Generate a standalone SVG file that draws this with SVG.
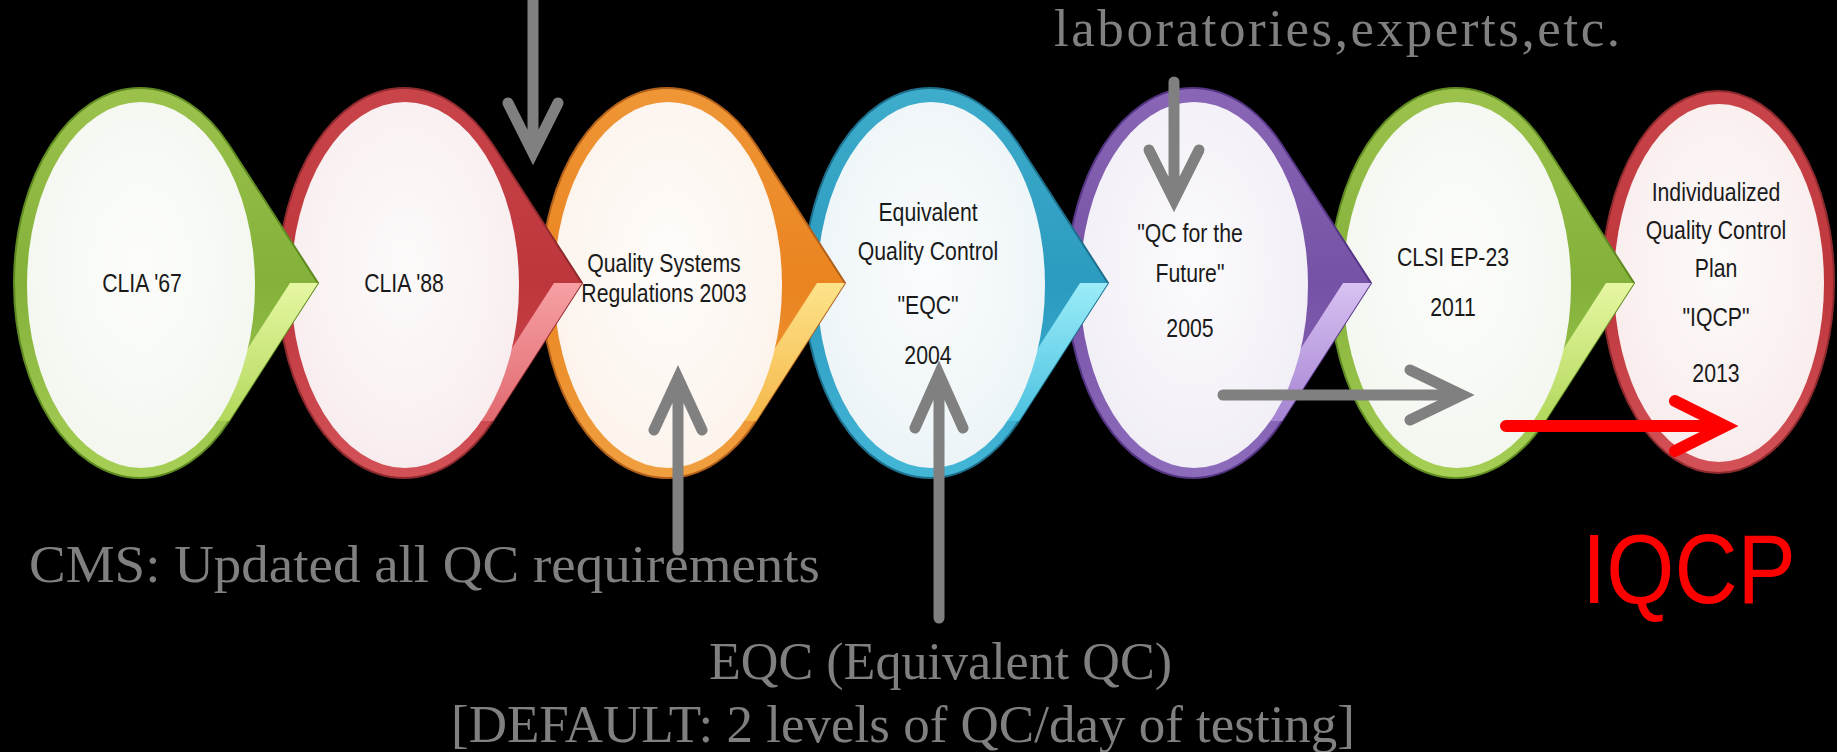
<svg xmlns="http://www.w3.org/2000/svg" width="1837" height="752" viewBox="0 0 1837 752">
<style>
.nt{font-family:"Liberation Sans",Arial,sans-serif;font-size:25px;fill:#1a1a1a;text-anchor:middle}
.ann{font-family:"Liberation Serif","Times New Roman",serif;font-size:53px;fill:#808080}
.arr{fill:none;stroke:#808080;stroke-width:11;stroke-linecap:round;stroke-linejoin:miter}
.red{stroke:#ff0000;stroke-width:12}
.hl{fill:url(#hl)}
</style>
<defs>
<radialGradient id="hl" cx="0.5" cy="0.45" r="0.55"><stop offset="0" stop-color="#ffffff" stop-opacity="0.75"/><stop offset="0.8" stop-color="#ffffff" stop-opacity="0.2"/><stop offset="1" stop-color="#ffffff" stop-opacity="0"/></radialGradient>
<linearGradient id="gG" x1="0" y1="0" x2="0" y2="1"><stop offset="0" stop-color="#9cc24c"/><stop offset="0.5" stop-color="#83b13a"/><stop offset="1" stop-color="#a7cf55"/></linearGradient>
<linearGradient id="gGb" x1="0" y1="0" x2="0" y2="1"><stop offset="0" stop-color="#e6f7a2"/><stop offset="1" stop-color="#b2d85c"/></linearGradient>
<linearGradient id="gR" x1="0" y1="0" x2="0" y2="1"><stop offset="0" stop-color="#c9454a"/><stop offset="0.5" stop-color="#bd363c"/><stop offset="1" stop-color="#d35258"/></linearGradient>
<linearGradient id="gRb" x1="0" y1="0" x2="0" y2="1"><stop offset="0" stop-color="#f7a0a4"/><stop offset="1" stop-color="#e06a70"/></linearGradient>
<linearGradient id="gO" x1="0" y1="0" x2="0" y2="1"><stop offset="0" stop-color="#ef9636"/><stop offset="0.5" stop-color="#ea8420"/><stop offset="1" stop-color="#f0a040"/></linearGradient>
<linearGradient id="gOb" x1="0" y1="0" x2="0" y2="1"><stop offset="0" stop-color="#fde38a"/><stop offset="1" stop-color="#f5b84a"/></linearGradient>
<linearGradient id="gB" x1="0" y1="0" x2="0" y2="1"><stop offset="0" stop-color="#3eaccb"/><stop offset="0.5" stop-color="#2b9bbf"/><stop offset="1" stop-color="#44b6d6"/></linearGradient>
<linearGradient id="gBb" x1="0" y1="0" x2="0" y2="1"><stop offset="0" stop-color="#9becf8"/><stop offset="1" stop-color="#4cc2e0"/></linearGradient>
<linearGradient id="gP" x1="0" y1="0" x2="0" y2="1"><stop offset="0" stop-color="#8a66b6"/><stop offset="0.5" stop-color="#7652a6"/><stop offset="1" stop-color="#8e6cbc"/></linearGradient>
<linearGradient id="gPb" x1="0" y1="0" x2="0" y2="1"><stop offset="0" stop-color="#d8c2f2"/><stop offset="1" stop-color="#a583d2"/></linearGradient>
</defs>
<rect width="1837" height="752" fill="#000"/>

<g id="node7">
<ellipse cx="1718" cy="282" rx="116" ry="191" fill="url(#gR)" stroke="#8e2a2e" stroke-width="2"/>
<ellipse cx="1719" cy="283" rx="105" ry="179" fill="#f9ecec"/>
<ellipse cx="1719" cy="283" rx="105" ry="179" class="hl"/>
<g transform="translate(1716 0) scale(0.85 1)">
<text class="nt" x="0" y="201">Individualized</text>
<text class="nt" x="0" y="239">Quality Control</text>
<text class="nt" x="0" y="277">Plan</text>
<text class="nt" x="0" y="326">"IQCP"</text>
<text class="nt" x="0" y="382">2013</text>
</g>
</g>

<g id="node6">
<path d="M1634 283 L1545 421 A126 195 0 1 1 1545 145 Z" fill="url(#gG)" stroke="#5f8a22" stroke-width="2"/>
<path d="M1634 283 L1606 283 L1517 421 L1545 421 Z" fill="url(#gGb)"/>
<ellipse cx="1457" cy="285" rx="114" ry="183" fill="#f3f7ef"/>
<ellipse cx="1457" cy="285" rx="114" ry="183" class="hl"/>
<g transform="translate(1453 0) scale(0.85 1)">
<text class="nt" x="0" y="266">CLSI EP-23</text>
<text class="nt" x="0" y="316">2011</text>
</g>
</g>

<g id="node5">
<path d="M1371 283 L1282 421 A126 195 0 1 1 1282 145 Z" fill="url(#gP)" stroke="#553684" stroke-width="2"/>
<path d="M1371 283 L1343 283 L1254 421 L1282 421 Z" fill="url(#gPb)"/>
<ellipse cx="1194" cy="285" rx="114" ry="183" fill="#f1eef6"/>
<ellipse cx="1194" cy="285" rx="114" ry="183" class="hl"/>
<g transform="translate(1190 0) scale(0.85 1)">
<text class="nt" x="0" y="242">"QC for the</text>
<text class="nt" x="0" y="282">Future"</text>
<text class="nt" x="0" y="337">2005</text>
</g>
</g>

<g id="node4">
<path d="M1108 283 L1019 421 A126 195 0 1 1 1019 145 Z" fill="url(#gB)" stroke="#1d6f8c" stroke-width="2"/>
<path d="M1108 283 L1080 283 L991 421 L1019 421 Z" fill="url(#gBb)"/>
<ellipse cx="931" cy="285" rx="114" ry="183" fill="#ecf4f7"/>
<ellipse cx="931" cy="285" rx="114" ry="183" class="hl"/>
<g transform="translate(928 0) scale(0.85 1)">
<text class="nt" x="0" y="221">Equivalent</text>
<text class="nt" x="0" y="260">Quality Control</text>
<text class="nt" x="0" y="314">"EQC"</text>
<text class="nt" x="0" y="364">2004</text>
</g>
</g>

<g id="node3">
<path d="M845 283 L756 421 A126 195 0 1 1 756 145 Z" fill="url(#gO)" stroke="#b0601a" stroke-width="2"/>
<path d="M845 283 L817 283 L728 421 L756 421 Z" fill="url(#gOb)"/>
<ellipse cx="668" cy="285" rx="114" ry="183" fill="#fcf3eb"/>
<ellipse cx="668" cy="285" rx="114" ry="183" class="hl"/>
<g transform="translate(664 0) scale(0.85 1)">
<text class="nt" x="0" y="272">Quality Systems</text>
<text class="nt" x="0" y="302">Regulations 2003</text>
</g>
</g>

<g id="node2">
<path d="M582 283 L493 421 A126 195 0 1 1 493 145 Z" fill="url(#gR)" stroke="#8e2a2e" stroke-width="2"/>
<path d="M582 283 L554 283 L465 421 L493 421 Z" fill="url(#gRb)"/>
<ellipse cx="405" cy="285" rx="114" ry="183" fill="#f8edee"/>
<ellipse cx="405" cy="285" rx="114" ry="183" class="hl"/>
<g transform="translate(404 0) scale(0.85 1)">
<text class="nt" x="0" y="292">CLIA '88</text>
</g>
</g>

<g id="node1">
<path d="M318 283 L229 421 A126 195 0 1 1 229 145 Z" fill="url(#gG)" stroke="#5f8a22" stroke-width="2"/>
<path d="M318 283 L290 283 L201 421 L229 421 Z" fill="url(#gGb)"/>
<ellipse cx="141" cy="285" rx="114" ry="183" fill="#f3f7ef"/>
<ellipse cx="141" cy="285" rx="114" ry="183" class="hl"/>
<g transform="translate(142 0) scale(0.85 1)">
<text class="nt" x="0" y="292">CLIA '67</text>
</g>
</g>

<g id="connectors">
<path class="arr" d="M533 0 V148 M508 103 L533 153 L558 103"/>
<path class="arr" d="M1174 82 V196 M1149 150 L1174 200 L1199 150"/>
<path class="arr" d="M678 550 V382 M654 430 L678 378 L702 430"/>
<path class="arr" d="M939 618 V378 M915 428 L939 374 L963 428"/>
<path class="arr" d="M1223 395 H1458 M1410 370 L1462 395 L1410 420"/>
<path class="arr red" d="M1506 426 H1720 M1675 401 L1725 426 L1675 451"/>
</g>

<g id="labels">
<text class="ann" x="1054" y="46" textLength="566" lengthAdjust="spacing">laboratories,experts,etc.</text>
<text class="ann" x="29" y="582" textLength="791" lengthAdjust="spacingAndGlyphs">CMS: Updated all QC requirements</text>
<text class="ann" x="709" y="679" textLength="463" lengthAdjust="spacingAndGlyphs">EQC (Equivalent QC)</text>
<text class="ann" x="451" y="742" textLength="904" lengthAdjust="spacingAndGlyphs">[DEFAULT: 2 levels of QC/day of testing]</text>
<text x="1582" y="603" textLength="214" lengthAdjust="spacingAndGlyphs" style="font-family:'Liberation Sans',Arial,sans-serif;font-size:99px;fill:#ff0000">IQCP</text>
</g>
</svg>
